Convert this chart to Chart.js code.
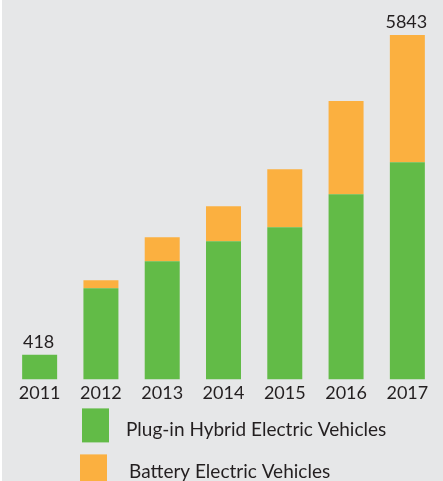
<!DOCTYPE html>
<html>
<head>
<meta charset="utf-8">
<script src="https://cdn.jsdelivr.net/npm/chart.js@4/dist/chart.umd.min.js"></script>
<style>
    html, body { margin: 0; padding: 0; background: #ffffff; }
    #wrap { position: absolute; left: 2px; top: 0; width: 441px; height: 481px; background: #e6e7e8; }
</style>
</head>
<body>
<div id="wrap"><canvas id="evChart" width="441" height="481"></canvas></div>
<script>
// 연도 / 시리즈 데이터
const years = ['2011', '2012', '2013', '2014', '2015', '2016', '2017'];
const phevValues = [418, 1546, 2004, 2344, 2582, 3142, 3686];
const bevValues = [0, 136, 408, 594, 985, 1580, 2157];
const seriesNames = ['Plug-in Hybrid Electric Vehicles', 'Battery Electric Vehicles'];
const totalLabelIndexes = [0, 6];   // 합계 표시할 막대

const GREEN = '#62bb47';
const ORANGE = '#fbb040';
const TEXT = '#231f20';
const FONT = 'Lato, "Open Sans", sans-serif';

// 막대 위 합계 라벨
const totalLabels = {
    id: 'totalLabels',
    afterDatasetsDraw(chart) {
        const ctx = chart.ctx;
        const yScale = chart.scales.y;
        const meta = chart.getDatasetMeta(0);
        ctx.save();
        ctx.fillStyle = TEXT;
        ctx.font = '18px ' + FONT;
        ctx.textAlign = 'center';
        ctx.textBaseline = 'alphabetic';
        totalLabelIndexes.forEach(i => {
            const total = chart.data.datasets.reduce((s, ds) => s + ds.data[i], 0);
            const x = meta.data[i].x;
            const y = yScale.getPixelForValue(total);
            ctx.fillText(String(total), x - 1, y - 7);
        });
        ctx.restore();
    }
};

// 하단 범례 (세로 배치)
const stackedLegend = {
    id: 'stackedLegend',
    afterDraw(chart) {
        const ctx = chart.ctx;
        const base = chart.chartArea.bottom;
        const rows = [
            { boxX: 80, boxY: 29, textX: 124, textY: 57 },
            { boxX: 78, boxY: 75, textX: 127, textY: 99 }
        ];
        ctx.save();
        ctx.font = '19px ' + FONT;
        ctx.textBaseline = 'alphabetic';
        chart.data.datasets.forEach((ds, i) => {
            const r = rows[i];
            ctx.fillStyle = ds.backgroundColor;
            ctx.fillRect(r.boxX, base + r.boxY, 27, 34);
            ctx.fillStyle = TEXT;
            ctx.fillText(ds.label, r.textX, base + r.textY);
        });
        ctx.restore();
    }
};

new Chart(document.getElementById('evChart'), {
    type: 'bar',
    data: {
        labels: years,
        datasets: [
            { label: seriesNames[0], data: phevValues, backgroundColor: GREEN },
            { label: seriesNames[1], data: bevValues, backgroundColor: ORANGE }
        ]
    },
    options: {
        responsive: false,
        animation: false,
        events: [],
        layout: { padding: { top: 35, left: 7, right: 5, bottom: 74 } },
        datasets: {
            bar: { categoryPercentage: 1.0, barPercentage: 0.571, borderWidth: 0 }
        },
        scales: {
            x: {
                stacked: true,
                grid: { display: false, drawTicks: false },
                border: { display: false },
                ticks: { color: TEXT, font: { family: FONT, size: 18 }, padding: 3 }
            },
            y: {
                stacked: true,
                display: false,
                min: 0,
                max: 5843
            }
        },
        plugins: {
            legend: { display: false },
            tooltip: { enabled: false }
        }
    },
    plugins: [totalLabels, stackedLegend]
});
</script>
</body>
</html>
